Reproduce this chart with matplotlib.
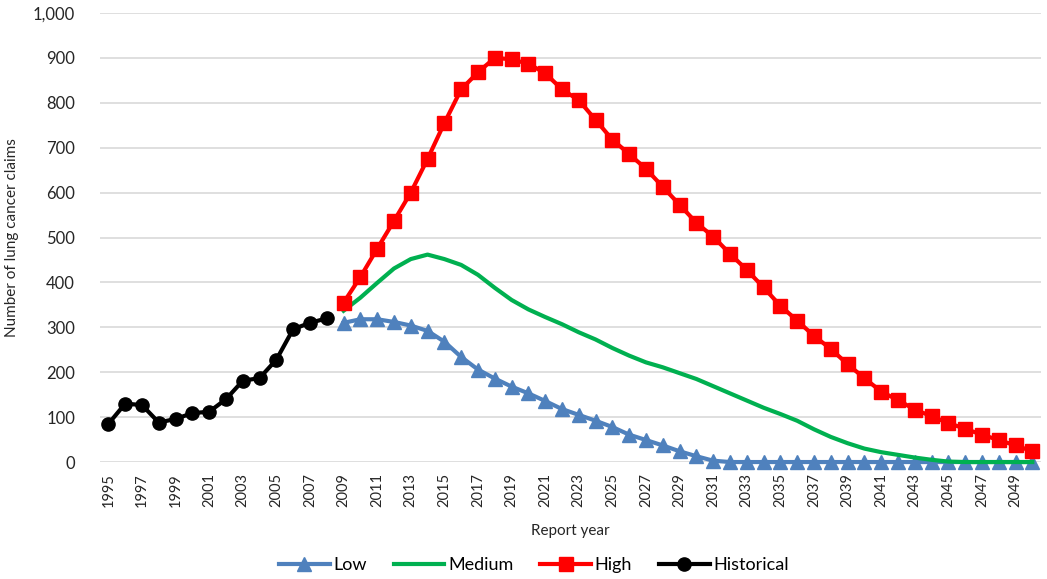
import numpy as np
import matplotlib.pyplot as plt

plt.rcParams['font.family'] = ['Lato', 'DejaVu Sans']

years_hist = list(range(1995, 2009))
historical = [85, 130, 127, 88, 96, 109, 112, 140, 181, 187, 228, 296, 310, 320]

years_proj = list(range(2009, 2051))
low = [310, 318, 318, 312, 304, 292, 268, 234, 206, 186, 168, 153, 136, 118, 105,
       92, 78, 61, 49, 37, 24, 13, 3, 0, 0, 0, 0, 0, 0, 0, 0, 0, 0, 0, 0, 0, 0, 0,
       0, 0, 0, 0]
medium = [337, 366, 399, 431, 452, 462, 452, 439, 417, 388, 361, 340, 323, 307,
          289, 273, 254, 237, 222, 211, 198, 185, 169, 153, 137, 121, 107, 92, 73,
          56, 42, 30, 22, 16, 10, 5, 1, 0, 0, 0, 0, 0]
high = [355, 412, 475, 537, 600, 675, 755, 830, 868, 900, 897, 887, 866, 830, 806,
        762, 718, 686, 653, 613, 573, 533, 502, 464, 428, 389, 348, 315, 281, 252,
        218, 187, 157, 138, 117, 102, 87, 74, 61, 49, 37, 24]

year_ticks = list(range(1995, 2051, 2))

fig = plt.figure(figsize=(10.47, 5.79), dpi=100)
ax = fig.add_axes([0.0955, 0.202, 0.8985, 0.7755])

ax.plot(years_proj, low, color='#4f81bd', lw=3, marker='^', ms=9.5, label='Low',
        zorder=3, clip_on=False)
ax.plot(years_proj, medium, color='#00b050', lw=3, label='Medium', zorder=4, clip_on=False)
ax.plot(years_proj, high, color='#ff0000', lw=3, marker='s', ms=9.5, label='High',
        zorder=5, clip_on=False)
ax.plot(years_hist, historical, color='black', lw=3, marker='o', ms=9.5, label='Historical',
        zorder=6, clip_on=False)

ax.set_xlim(1994.5, 2050.5)
ax.set_ylim(0, 1000)
ax.set_yticks(range(0, 1001, 100))
ax.set_yticklabels([f'{v:,}' for v in range(0, 1001, 100)], fontsize=12, color='#262626')
ax.set_xticks(year_ticks)
ax.set_xticklabels([str(y) for y in year_ticks], rotation=90, fontsize=10.5, color='#262626')
ax.tick_params(length=0, pad=8)
ax.tick_params(axis='y', pad=18)
ax.grid(axis='y', color='#d9d9d9', lw=1.2)
ax.set_axisbelow(True)
for s in ax.spines.values():
    s.set_visible(False)

ax.set_xlabel('Report year', fontsize=11, color='#262626', labelpad=12)
ax.set_ylabel('Number of lung cancer claims', fontsize=11, color='#262626', labelpad=10)

fig.legend(loc='lower center', bbox_to_anchor=(0.51, -0.018), ncol=4, frameon=False,
           fontsize=13, handlelength=2.8, columnspacing=1.5, handletextpad=0.2)

fig.savefig('out.png', dpi=100)
